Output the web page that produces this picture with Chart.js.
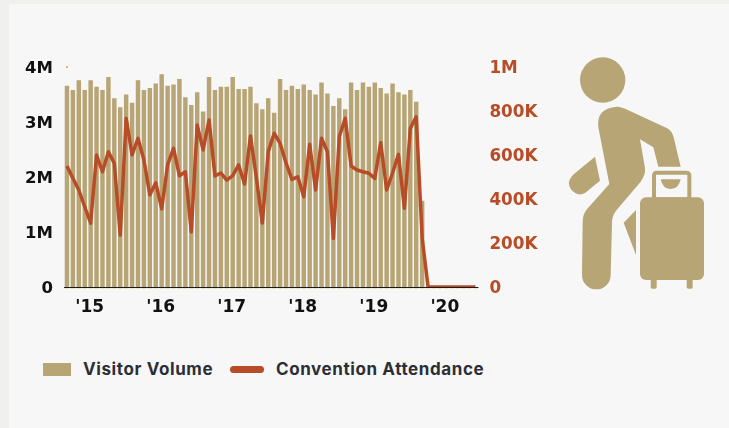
<!DOCTYPE html>
<html>
<head>
<meta charset="utf-8">
<script src="https://cdn.jsdelivr.net/npm/chart.js@4"></script>
<style>
    html, body { margin: 0; padding: 0; width: 729px; height: 428px; overflow: hidden; background: #f0f0ef; }
    #panel { position: absolute; left: 9px; top: 4px; right: 0; bottom: 0; background: #f7f7f7; }
    #chart { position: absolute; left: 0; top: 0; }
    #icon { position: absolute; left: 550px; top: 40px; filter: blur(0.4px); }
    .legend-item { position: absolute; top: 359px; font: 700 17px Inter, sans-serif; letter-spacing: 0.6px; color: #2c2e35; line-height: 20px; white-space: nowrap; }
    .swatch { position: absolute; }
</style>
</head>
<body>
<div id="panel"></div>
<canvas id="chart" width="560" height="340"></canvas>

<svg id="icon" width="179" height="270" viewBox="0 0 537 810" fill="#b7a576">
    <circle cx="158" cy="120" r="68"/>
    <path d="M200 200 Q215 200 235 211 L350 264 Q366 272 371 292 L392 380 L325 380 L310 322 L270 298 L285 385 Q287 405 272 425 L198 512 Q186 528 186 548 L182 705 A43 43 0 0 1 96 705 L98 545 Q98 522 112 506 L178 432 L145 262 Q138 205 200 200 Z"/>
    <path d="M135 350 L150 422 L106 458 Q82 472 63 448 Q47 425 72 402 Z"/>
    <path d="M258 510 L258 645 L221 548 Z"/>
    <rect x="270" y="472" width="192" height="248" rx="18"/>
    <rect x="302" y="712" width="18" height="34" rx="5"/>
    <rect x="410" y="712" width="18" height="34" rx="5"/>
    <rect x="312" y="398" width="106" height="80" rx="8" fill="none" stroke="#b7a576" stroke-width="12"/>
    <path d="M332 418 H392 Q386 447 362 447 Q338 447 332 418 Z"/>
</svg>

<div class="swatch" style="left:43px;top:363px;width:28px;height:13px;background:#b7a576"></div>
<div class="legend-item" style="left:83px">Visitor Volume</div>
<div class="swatch" style="left:230px;top:366px;width:34px;height:7px;border-radius:3.5px;background:#b84c26"></div>
<div class="legend-item" style="left:276px">Convention Attendance</div>

<script>
// Valeurs
const categories = [
    'Sep 14', 'Oct 14', 'Nov 14', 'Dec 14',
    'Jan 15', 'Feb 15', 'Mar 15', 'Apr 15', 'May 15', 'Jun 15', 'Jul 15', 'Aug 15', 'Sep 15', 'Oct 15', 'Nov 15', 'Dec 15',
    'Jan 16', 'Feb 16', 'Mar 16', 'Apr 16', 'May 16', 'Jun 16', 'Jul 16', 'Aug 16', 'Sep 16', 'Oct 16', 'Nov 16', 'Dec 16',
    'Jan 17', 'Feb 17', 'Mar 17', 'Apr 17', 'May 17', 'Jun 17', 'Jul 17', 'Aug 17', 'Sep 17', 'Oct 17', 'Nov 17', 'Dec 17',
    'Jan 18', 'Feb 18', 'Mar 18', 'Apr 18', 'May 18', 'Jun 18', 'Jul 18', 'Aug 18', 'Sep 18', 'Oct 18', 'Nov 18', 'Dec 18',
    'Jan 19', 'Feb 19', 'Mar 19', 'Apr 19', 'May 19', 'Jun 19', 'Jul 19', 'Aug 19', 'Sep 19', 'Oct 19', 'Nov 19', 'Dec 19',
    'Jan 20', 'Feb 20', 'Mar 20', 'Apr 20', 'May 20', 'Jun 20'
];

const visitorVolume = [
    3660000, 3580000, 3760000, 3580000, 3760000, 3640000, 3580000, 3820000, 3430000, 3270000,
    3500000, 3350000, 3760000, 3580000, 3620000, 3700000, 3870000, 3660000, 3680000, 3780000,
    3450000, 3310000, 3540000, 3190000, 3820000, 3580000, 3640000, 3640000, 3820000, 3600000,
    3600000, 3640000, 3340000, 3230000, 3430000, 3170000, 3780000, 3580000, 3660000, 3600000,
    3680000, 3580000, 3500000, 3720000, 3520000, 3290000, 3430000, 3230000, 3720000, 3580000,
    3720000, 3640000, 3720000, 3620000, 3520000, 3700000, 3540000, 3500000, 3580000, 3370000,
    1570000, 0, 0, 0, 0, 0, 0, 0, 0, 0
];

const conventionAttendance = [
    550000, 494000, 441000, 365000, 290000, 600000, 524000, 615000, 562000, 236000,
    767000, 600000, 676000, 577000, 418000, 474000, 355000, 555000, 630000, 505000,
    524000, 251000, 736000, 623000, 759000, 505000, 518000, 486000, 506000, 555000,
    468000, 686000, 495000, 291000, 615000, 699000, 653000, 564000, 489000, 501000,
    410000, 649000, 441000, 676000, 615000, 221000, 683000, 767000, 550000, 532000,
    524000, 517000, 494000, 656000, 441000, 518000, 603000, 358000, 721000, 774000,
    223000, 0, 0, 0, 0, 0, 0, 0, 0, 0
];

const strayMark = [{ x: 'Sep 14', y: 4000000 }];

const xTickCategories = ['Jan 15', 'Jan 16', 'Jan 17', 'Jan 18', 'Jan 19', 'Jan 20'];
const xTickLabels = ["'15", "'16", "'17", "'18", "'19", "'20"];
const leftTicks = [0, 1000000, 2000000, 3000000, 4000000];
const leftTickLabels = ['0', '1M', '2M', '3M', '4M'];
const rightTicks = [0, 200000, 400000, 600000, 800000, 1000000];
const rightTickLabels = ['0', '200K', '400K', '600K', '800K', '1M'];

const gold = '#b7a576';
const rust = '#b84c26';
const fontFamily = '"DejaVu Sans", sans-serif';

new Chart(document.getElementById('chart'), {
    type: 'bar',
    data: {
        labels: categories,
        datasets: [
            {
                type: 'line',
                data: conventionAttendance,
                yAxisID: 'right',
                borderColor: rust,
                borderWidth: 3.5,
                borderJoinStyle: 'round',
                pointRadius: 0,
                tension: 0,
                // la ligne est coupée à la base, seule sa moitié haute reste sur le zéro
                clip: { left: 10, top: 10, right: 10, bottom: -1.5 },
                order: 1
            },
            {
                type: 'line',
                data: strayMark,
                yAxisID: 'left',
                showLine: false,
                pointRadius: 0.8,
                pointBorderWidth: 0,
                pointBackgroundColor: '#d0452a',
                clip: false,
                order: 1
            },
            {
                type: 'bar',
                data: visitorVolume,
                yAxisID: 'left',
                base: -27000,
                backgroundColor: gold,
                categoryPercentage: 1,
                barPercentage: 0.75,
                order: 2
            }
        ]
    },
    options: {
        responsive: false,
        animation: false,
        layout: { padding: { top: 67, left: 0, right: 0, bottom: 0 } },
        plugins: { legend: { display: false }, tooltip: { enabled: false } },
        scales: {
            x: {
                offset: true,
                afterFit: (scale) => { scale.height = 51.5; },
                grid: { display: false, drawTicks: false },
                border: { display: false },
                ticks: {
                    autoSkip: false,
                    maxRotation: 0,
                    padding: 9,
                    labelOffset: -1,
                    color: '#111',
                    font: { family: fontFamily, size: 17, weight: 'bold' },
                    callback(value) {
                        const pos = xTickCategories.indexOf(this.getLabelForValue(value));
                        return pos >= 0 ? xTickLabels[pos] : '';
                    }
                }
            },
            left: {
                position: 'left',
                min: -27000,
                max: 4000000,
                afterFit: (scale) => { scale.width = 64; },
                afterBuildTicks: (scale) => { scale.ticks = leftTicks.map(value => ({ value })); },
                // seule la ligne du zéro est visible, au-dessus des barres
                grid: {
                    z: 1,
                    drawTicks: false,
                    lineWidth: 1,
                    color: (ctx) => (ctx.tick && ctx.tick.value === 0 ? '#1a1a1a' : 'transparent')
                },
                border: { display: false },
                ticks: {
                    padding: 11,
                    labelOffset: 2,
                    color: '#111',
                    font: { family: fontFamily, size: 16.5, weight: 'bold' },
                    callback: (value) => leftTickLabels[leftTicks.indexOf(value)]
                }
            },
            right: {
                position: 'right',
                min: -6750,
                max: 1000000,
                afterFit: (scale) => { scale.width = 81.6; },
                afterBuildTicks: (scale) => { scale.ticks = rightTicks.map(value => ({ value })); },
                grid: { display: false, drawTicks: false },
                border: { display: false },
                ticks: {
                    padding: 11,
                    labelOffset: 2,
                    color: rust,
                    font: { family: fontFamily, size: 16.8, weight: 'bold' },
                    callback: (value) => rightTickLabels[rightTicks.indexOf(value)]
                }
            }
        }
    }
});
</script>
</body>
</html>
